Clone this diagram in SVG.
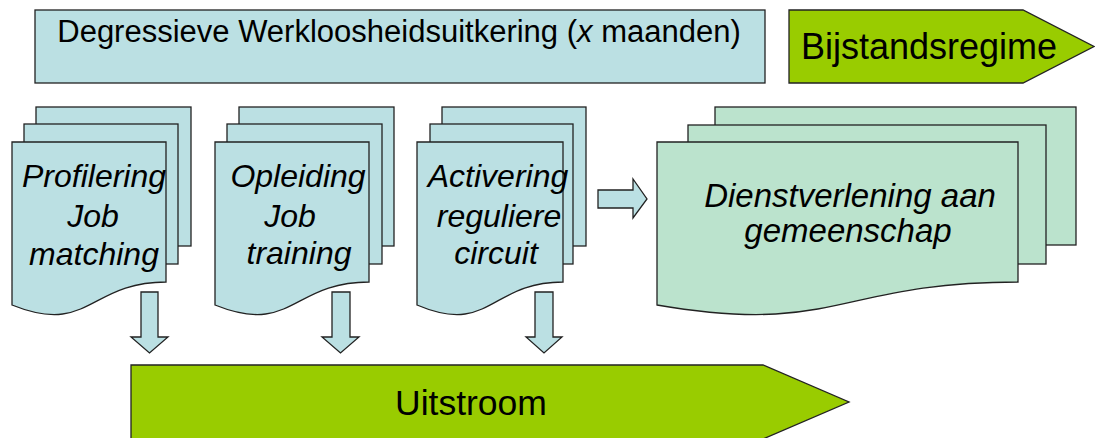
<svg xmlns="http://www.w3.org/2000/svg" width="1095" height="438" viewBox="0 0 1095 438">
<style>
.s{stroke:#222;stroke-width:1.3;stroke-linejoin:miter}
.b{fill:#BBE0E3}
.g{fill:#BBE3CD}
.l{fill:#99CC00}
.t{font-family:"Liberation Sans",Arial,sans-serif;fill:#000;text-anchor:middle}
.i{font-style:italic;font-size:32px}
.d{font-size:33px}
</style>
<rect width="1095" height="438" fill="#fff"/>
<g id="werkloosheid">
<rect class="s b" x="35" y="10" width="730" height="73"/>
<text class="t" x="399" y="42" font-size="31">Degressieve Werkloosheidsuitkering (<tspan font-style="italic">x</tspan> maanden)</text>
</g>
<g id="bijstand">
<path class="s l" d="M789,10 H1023 L1094,46.5 L1023,83 H789 Z"/>
<text class="t" x="929" y="59" font-size="36">Bijstandsregime</text>
</g>
<g id="profilering">
<rect class="s b" x="36" y="107" width="155" height="139"/>
<rect class="s b" x="24" y="124" width="154" height="140"/>
<path class="s b" d="M12,142 H166 V282 C89,282 89,336 12,305 Z"/>
<text class="t i" x="94" y="187">Profilering</text>
<text class="t i" x="93" y="227">Job</text>
<text class="t i" x="94" y="265">matching</text>
</g>
<g id="opleiding">
<rect class="s b" x="239" y="107" width="155" height="139"/>
<rect class="s b" x="227" y="124" width="155" height="140"/>
<path class="s b" d="M215,142 H369 V282 C292,282 292,336 215,305 Z"/>
<text class="t i" x="298" y="187">Opleiding</text>
<text class="t i" x="290" y="227">Job</text>
<text class="t i" x="299" y="264">training</text>
</g>
<g id="activering">
<rect class="s b" x="442" y="107" width="144" height="139"/>
<rect class="s b" x="430" y="124" width="143" height="140"/>
<path class="s b" d="M417,142 H563 V282 C490,282 490,336 417,305 Z"/>
<text class="t i" x="498" y="187">Activering</text>
<text class="t i" x="499" y="227">reguliere</text>
<text class="t i" x="496" y="264">circuit</text>
</g>
<g id="dienstverlening">
<rect class="s g" x="715" y="107" width="361" height="138"/>
<rect class="s g" x="688" y="125" width="358" height="139"/>
<path class="s g" d="M657,142 H1018 V282 C837.5,282 837.5,336 657,305 Z"/>
<text class="t i d" x="850" y="207">Dienstverlening aan</text>
<text class="t i d" x="848" y="242">gemeenschap</text>
</g>
<g id="uitstroom">
<path class="s l" d="M131,365 H763 L849,402 L763,439 H131 Z"/>
<text class="t" x="471" y="415" font-size="35.5">Uitstroom</text>
</g>
<g id="connectors">
<path class="s b" d="M141,292 H158 V337 H168 L149.5,353 L131,337 H141 Z"/>
<path class="s b" d="M332,292 H350 V337 H359 L340.5,353 L322,337 H332 Z"/>
<path class="s b" d="M535,292 H553 V337 H562 L544,353 L526,337 H535 Z"/>
<path class="s b" d="M598,190 H633 V179 L647,199 L633,218 V208 H598 Z"/>
</g>
</svg>
